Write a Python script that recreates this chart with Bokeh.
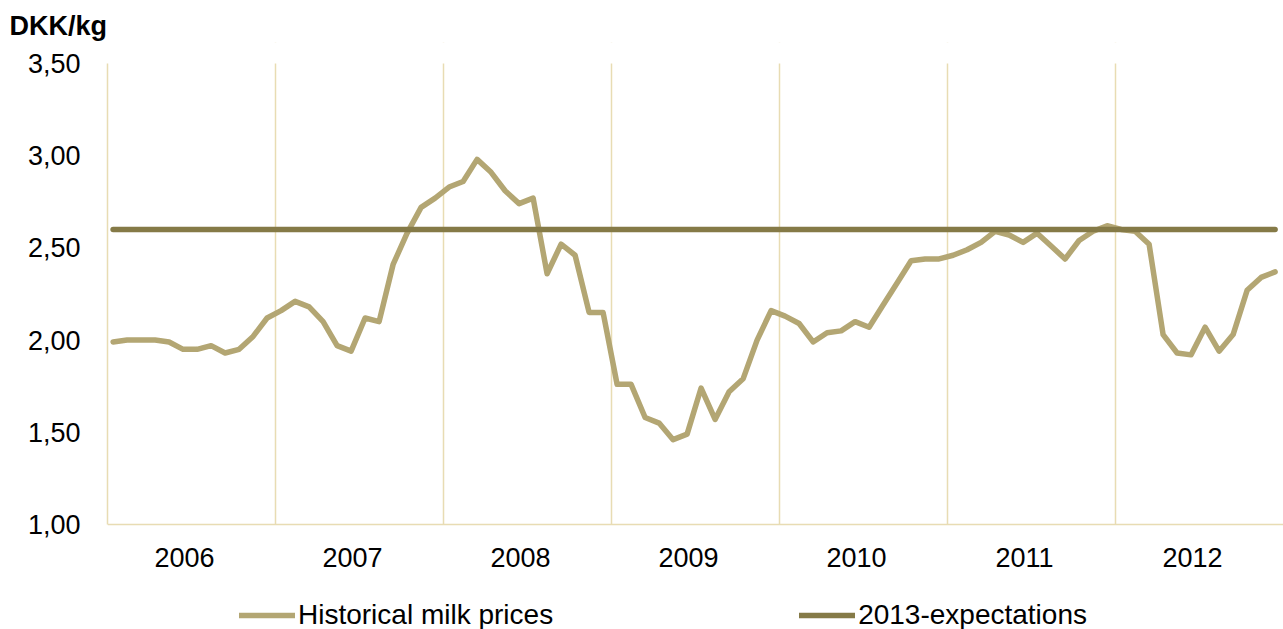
from bokeh.plotting import figure
from bokeh.models import Range1d, FixedTicker, Legend, LegendItem, Title, BoxAnnotation
from bokeh.embed import file_html
from bokeh.resources import INLINE

years = ["2006", "2007", "2008", "2009", "2010", "2011", "2012"]
prices_2006 = [1.99, 2.00, 2.00, 2.00, 1.99, 1.95, 1.95, 1.97, 1.93, 1.95, 2.02, 2.12]
prices_2007 = [2.16, 2.21, 2.18, 2.10, 1.97, 1.94, 2.12, 2.10, 2.41, 2.58, 2.72, 2.77]
prices_2008 = [2.83, 2.86, 2.98, 2.91, 2.81, 2.74, 2.77, 2.36, 2.52, 2.46, 2.15, 2.15]
prices_2009 = [1.76, 1.76, 1.58, 1.55, 1.46, 1.49, 1.74, 1.57, 1.72, 1.79, 2.00, 2.16]
prices_2010 = [2.13, 2.09, 1.99, 2.04, 2.05, 2.10, 2.07, 2.19, 2.31, 2.43, 2.44, 2.44]
prices_2011 = [2.46, 2.49, 2.53, 2.59, 2.57, 2.53, 2.58, 2.51, 2.44, 2.54, 2.59, 2.62]
prices_2012 = [2.60, 2.59, 2.52, 2.03, 1.93, 1.92, 2.07, 1.94, 2.03, 2.27, 2.34, 2.37]
expectation_2013 = 2.60
y_ticks = [1.0, 1.5, 2.0, 2.5, 3.0, 3.5]
y_tick_labels = ["1,00", "1,50", "2,00", "2,50", "3,00", "3,50"]

historical = (prices_2006 + prices_2007 + prices_2008 + prices_2009 +
              prices_2010 + prices_2011 + prices_2012)
n_months = len(historical)
month_pos = [i + 0.4 for i in range(n_months)]

FONT = "Liberation Sans"
GRID = "#e8dcb3"
HIST = "#b3a673"
EXP = "#857a47"

# layout geometry (pixels): value area 63..524 vertically, figure 629 tall,
# frame extended to 42 at the top and to the bottom edge
W, H = 1283, 629
FRAME_TOP, TOP, AXIS_Y = 42, 63, 524
px_per_unit = (AXIS_Y - TOP) / (y_ticks[-1] - y_ticks[0])
y_lo = y_ticks[0] - (H - AXIS_Y) / px_per_unit
y_hi = y_ticks[-1] + (TOP - FRAME_TOP) / px_per_unit

p = figure(width=W, height=H, output_backend="svg", toolbar_location=None,
           x_range=Range1d(0, n_months), y_range=Range1d(y_lo, y_hi),
           min_border_left=107, min_border_right=0, min_border_top=FRAME_TOP,
           min_border_bottom=0)
p.outline_line_color = None
p.background_fill_color = "white"
p.border_fill_color = "white"

# grids
p.ygrid.visible = False
p.xgrid.ticker = FixedTicker(ticks=[12 * k for k in range(1, len(years))])
p.xgrid.grid_line_color = GRID
p.xgrid.grid_line_width = 1.5
# keep grid lines only inside the value area
p.add_layout(BoxAnnotation(top=y_ticks[0], fill_color="white", fill_alpha=1.0,
                           line_color=None, level="underlay"))
p.add_layout(BoxAnnotation(bottom=y_ticks[-1], fill_color="white", fill_alpha=1.0,
                           line_color=None, level="underlay"))

r_hist = p.line(month_pos, historical, line_color=HIST, line_width=5.5,
                line_join="round", line_cap="round")
r_exp = p.line([month_pos[0], month_pos[-1]], [expectation_2013, expectation_2013],
               line_color=EXP, line_width=5.5, line_cap="round")

# x axis
x_ticks = [12 * k + 5.5 for k in range(len(years))]
p.xaxis.fixed_location = y_ticks[0]
p.xaxis.ticker = FixedTicker(ticks=x_ticks)
p.xaxis.major_label_overrides = {t: y for t, y in zip(x_ticks, years)}
p.xaxis.axis_line_color = GRID
p.xaxis.axis_line_width = 1.5
p.xaxis.major_tick_line_color = None
p.xaxis.minor_tick_line_color = None
p.xaxis.major_tick_out = 0
p.xaxis.major_tick_in = 0
p.xaxis.major_label_standoff = 23
p.xaxis.major_label_text_font = FONT
p.xaxis.major_label_text_font_size = "27px"
p.xaxis.major_label_text_color = "black"

# y axis
p.yaxis.bounds = (y_ticks[0], y_ticks[-1])
p.yaxis.ticker = FixedTicker(ticks=y_ticks)
p.yaxis.major_label_overrides = {t: l for t, l in zip(y_ticks, y_tick_labels)}
p.yaxis.axis_line_color = GRID
p.yaxis.axis_line_width = 1.5
p.yaxis.major_tick_line_color = None
p.yaxis.minor_tick_line_color = None
p.yaxis.major_tick_out = 0
p.yaxis.major_tick_in = 0
p.yaxis.major_label_standoff = 27
p.yaxis.major_label_text_font = FONT
p.yaxis.major_label_text_font_size = "27px"
p.yaxis.major_label_text_color = "black"

# unit label
p.add_layout(Title(text="DKK/kg", align="left", offset=-98, standoff=0,
                   vertical_align="top",
                   text_font=FONT, text_font_style="bold", text_font_size="27px",
                   text_color="black"), "above")

legend = Legend(items=[LegendItem(label="Historical milk prices", renderers=[r_hist]),
                       LegendItem(label="2013-expectations", renderers=[r_exp])],
                orientation="horizontal", location=(132, -2),
                glyph_width=56, glyph_height=20, label_standoff=3, spacing=246,
                padding=0, margin=0, border_line_color=None, background_fill_alpha=0,
                label_text_font=FONT, label_text_font_size="28px", label_text_color="black")
p.add_layout(legend)

open("out.html", "w").write(file_html(p, INLINE))
